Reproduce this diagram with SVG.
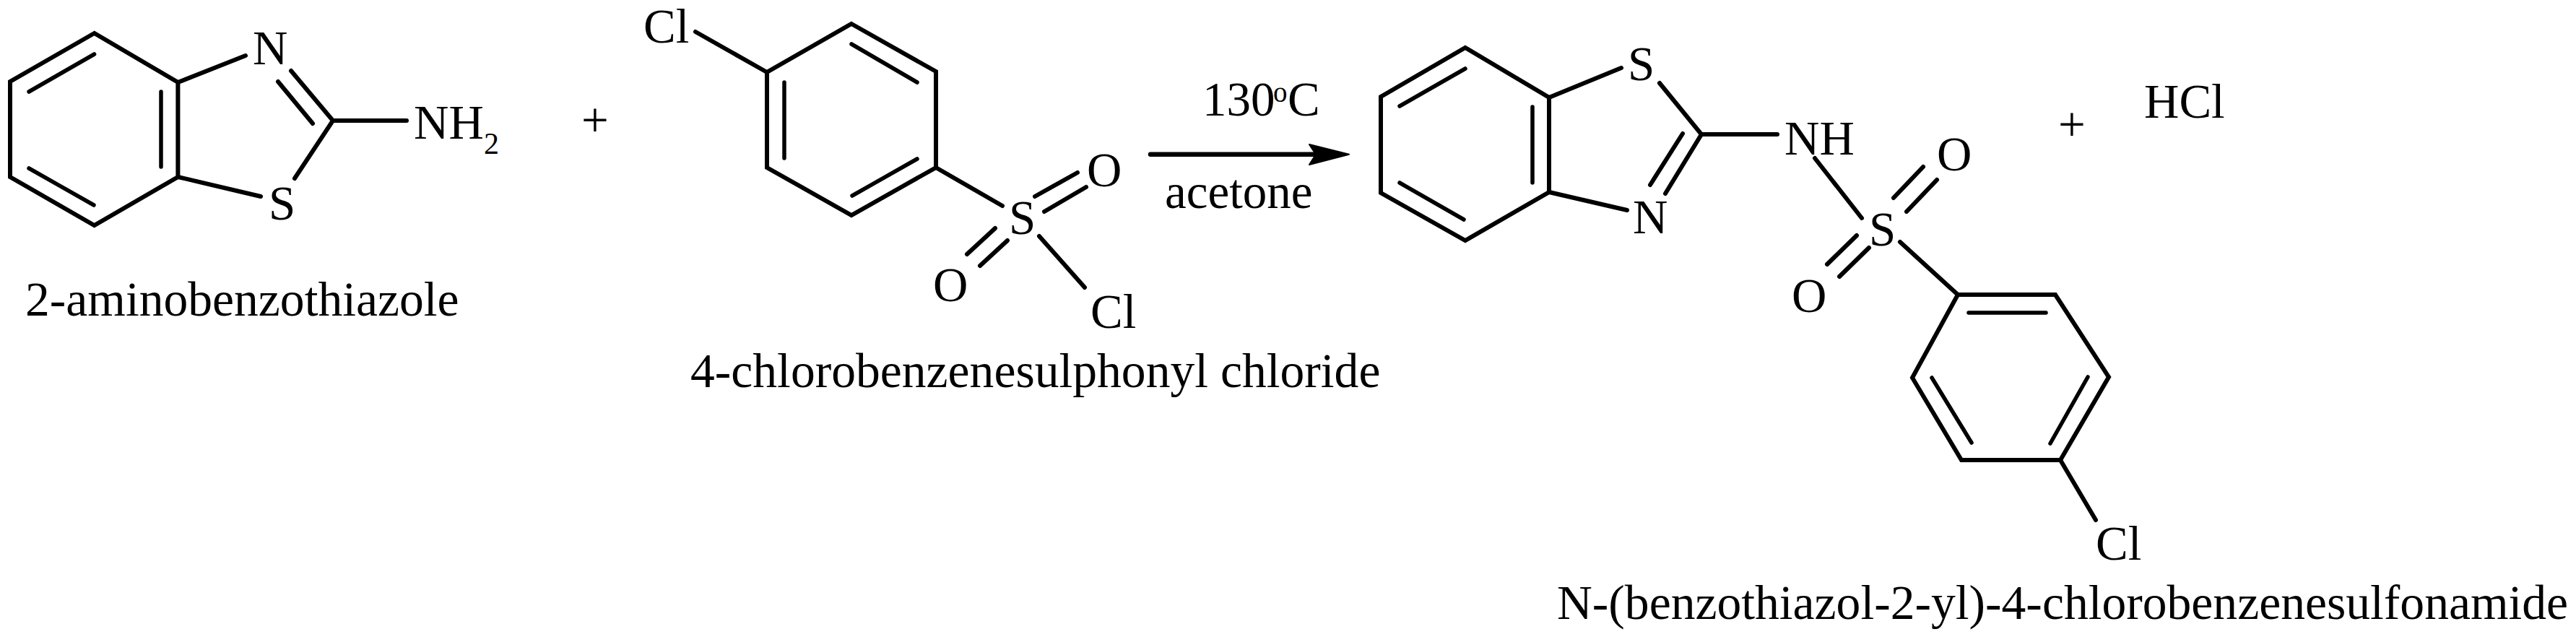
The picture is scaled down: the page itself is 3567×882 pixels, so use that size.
<svg xmlns="http://www.w3.org/2000/svg" width="3567" height="882" viewBox="0 0 3567 882">
<style>
text{font-family:"Liberation Serif","Times New Roman",serif;font-size:67px;fill:#000}
.name{font-size:67.6px}
.sub{font-size:42px}
.sup{font-size:39px}
.b{fill:none;stroke:#000;stroke-width:6;stroke-linecap:round;stroke-linejoin:miter}
.i{fill:none;stroke:#000;stroke-width:5.5;stroke-linecap:round}
</style>
<rect width="3567" height="882" fill="#fff"/>
<g id="aminobenzothiazole">
<path class="b" d="M130.6 46L14 113V245L130.6 312L246.4 245V114Z"/>
<path class="i" d="M40 127L130.6 75M40 233L130 284M223 127V231"/>
<path class="b" d="M246.4 114L340 77M403 98L461 167L408 247M385 113L433 171M461 167H563M246.4 245L361 272"/>
<text x="350" y="89">N</text><text x="372" y="304">S</text>
<text x="573" y="192">NH</text><text x="670" y="213" class="sub">2</text>
<text class="name" x="35" y="437">2-aminobenzothiazole</text>
</g>
<text id="plus1" x="805" y="189">+</text>
<g id="chlorobenzenesulphonyl-chloride">
<path class="b" d="M1179 33L1296 99V232L1179 298L1062 232V100Z"/>
<path class="i" d="M1179 61L1270 114M1086 114V219M1270 220L1180 271"/>
<path class="b" d="M963 44L1062 100M1296 232L1388 285M1433 272L1492 239M1446 293L1504 259M1378 316L1339 352M1395 333L1357 368M1439 327L1502 398"/>
<text x="891" y="59">Cl</text><text x="1397" y="324">S</text><text x="1505" y="258">O</text><text x="1292" y="417">O</text><text x="1510" y="454">Cl</text>
<text class="name" x="956" y="536">4-chlorobenzenesulphonyl chloride</text>
</g>
<g id="connectors">
<line x1="1593" y1="213.7" x2="1825" y2="213.7" stroke="#000" stroke-width="6.5" stroke-linecap="round"/>
<path d="M1813 200L1868 213.7L1813 228L1822 213.7Z" fill="#000" stroke="#000" stroke-width="2" stroke-linejoin="round"/>
</g>
<g id="conditions">
<text x="1665" y="160">130</text><text x="1763" y="141" class="sup">o</text><text x="1783" y="160">C</text>
<text x="1613" y="288">acetone</text>
</g>
<g id="sulfonamide">
<path class="b" d="M2029 66L2145 135V266L2029 333L1912 267V134Z"/>
<path class="i" d="M1938 147L2029 95M2122 148V253M1938 253L2027 304M2726 433H2833M2675 523L2730 613M2891 522L2839 614"/>
<path class="b" d="M2145 135L2245 94M2298 115L2356 186L2306 268M2330 185L2285 256M2145 266L2253 291M2356 186H2461M2513 219L2578 302M2622 274L2663 231M2640 293L2682 249M2571 326L2530 366M2588 343L2547 383M2631 335L2711 408"/>
<path class="b" d="M2711 408H2846L2920 522L2853 637H2716L2648 523Z"/>
<path class="b" d="M2853 637L2902 720"/>
<text x="2254" y="111">S</text><text x="2261" y="323">N</text><text x="2471" y="214">NH</text><text x="2588" y="340">S</text><text x="2682" y="236">O</text><text x="2481" y="432">O</text><text x="2902" y="775">Cl</text>
<text class="name" x="2156" y="857">N-(benzothiazol-2-yl)-4-chlorobenzenesulfonamide</text>
</g>
<text id="plus2" x="2850" y="195">+</text>
<text id="hcl" x="2969" y="163">HCl</text>
</svg>
